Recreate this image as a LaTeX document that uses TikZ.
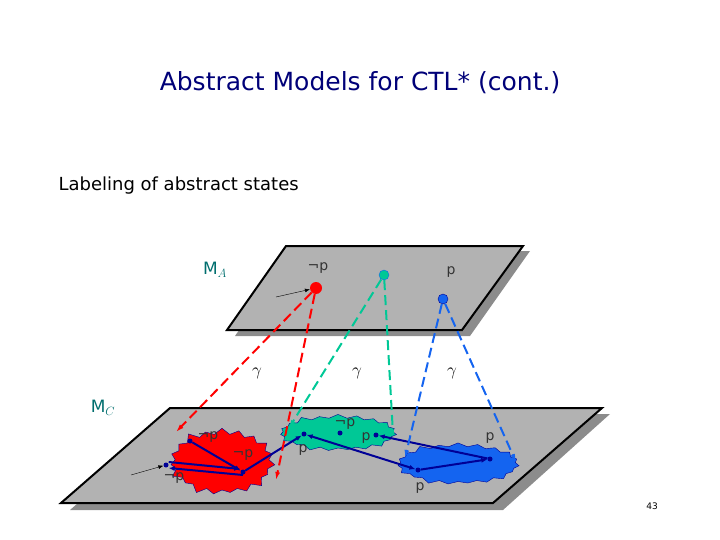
\documentclass[tikz,border=0pt]{standalone}
\usepackage{fontspec}
\setmainfont{DejaVu Sans}
\usetikzlibrary{arrows.meta,shapes.symbols}
\definecolor{plane}{RGB}{178,178,178}
\definecolor{shad}{RGB}{140,140,140}
\definecolor{tealc}{RGB}{0,200,150}
\definecolor{bluec}{RGB}{20,100,240}
\definecolor{navy}{RGB}{0,0,150}
\definecolor{labc}{RGB}{0,110,110}
\begin{document}
\begin{tikzpicture}[x=1pt,y=-1pt,
  dot/.style={circle,fill=navy,inner sep=0pt,minimum size=5pt},
  lab/.style={font=\fontsize{14}{14}\selectfont,text=black!80},
  tr/.style={-{Latex[length=6pt,width=5pt]},navy,line width=2pt},
  gam/.style={dashed,line width=2pt,dash pattern=on 10pt off 5pt,-{Latex[length=8pt,width=5pt]}},
  blob/.style={starburst,starburst points=19,starburst point height=8pt,draw=navy,thin},
  ini/.style={-{Latex[length=5pt]},black,thin}]
\useasboundingbox (0,0) rectangle (720,540);
\node[font=\fontsize{25}{25}\selectfont,text=navy!80!black] (title) at (360,83) {Abstract Models for CTL* (cont.)};
\node[font=\fontsize{18}{18}\selectfont,anchor=west] (sub) at (55,186) {Labeling of abstract states};
% top plane
\fill[shad] (294,251) -- (530,251) -- (470,336) -- (235,336) -- cycle;
\filldraw[fill=plane,draw=black,line width=2pt] (286,246) -- (523,246) -- (462,330) -- (227,330) -- cycle;
% bottom plane
\fill[shad] (180,414) -- (610,414) -- (503,510) -- (70,510) -- cycle;
\filldraw[fill=plane,draw=black,line width=2pt] (170,408) -- (602,408) -- (493,503) -- (61,503) -- cycle;
\node[font=\fontsize{17}{17}\selectfont,text=labc] (ma) at (215,270) {M$_A$};
\node[font=\fontsize{17}{17}\selectfont,text=labc] (mc) at (103,408) {M$_C$};
% blobs
\node[blob,fill=red,minimum width=110pt,minimum height=72pt] (rb) at (222,462) {};
\node[blob,fill=tealc,minimum width=120pt,minimum height=40pt,starburst point height=5pt] (tb) at (338,433) {};
\node[blob,fill=bluec,minimum width=125pt,minimum height=45pt,starburst point height=5pt] (bb) at (458,464) {};
% abstract states
\node[circle,fill=red,inner sep=0pt,minimum size=12pt] (ra) at (316,288) {};
\node[circle,fill=tealc,draw=bluec,inner sep=0pt,minimum size=10pt] (ta) at (384,275) {};
\node[circle,fill=bluec,draw=navy,inner sep=0pt,minimum size=10pt] (ba) at (443,299) {};
\node[lab] at (318,268) {¬p};
\node[lab] at (451,272) {p};
\coordinate (ri) at (276,297);
\draw[ini] (ri) -- (ra);
% concrete states
\node[dot] (a) at (190,441) {}; \node[lab,anchor=west] at (194,437) {¬p};
\node[dot] (b) at (243,472) {}; \node[lab] at (243,455) {¬p};
\node[dot] (c) at (166,465) {}; \node[lab] at (174,478) {¬p};
\node[dot] (d) at (304,434) {}; \node[lab] at (303,450) {p};
\node[dot] (e) at (340,433) {}; \node[lab] at (345,424) {¬p};
\node[dot] (f) at (376,435) {}; \node[lab] at (366,438) {p};
\node[dot] (g) at (418,470) {}; \node[lab] at (420,488) {p};
\node[dot] (h) at (490,459) {}; \node[lab] at (490,438) {p};
\coordinate (ci) at (131,475);
\draw[ini] (ci) -- (c);
\draw[tr] (a) -- (b);
\draw[tr] ([yshift=-3pt]b.center) -- ([yshift=-3pt]c.east);
\draw[tr] ([yshift=3pt]c.east) -- ([yshift=3pt]b.west);
\draw[tr] (b) -- (d);
\draw[tr,{Latex[length=6pt,width=5pt]}-{Latex[length=6pt,width=5pt]}] (d) -- (g);
\draw[tr,{Latex[length=6pt,width=5pt]}-] (f) -- (h);
\draw[tr] (g) -- (h);
% gamma maps
\coordinate (r1) at (176,432); \coordinate (r2) at (276,480);
\coordinate (t1) at (289,428); \coordinate (t2) at (393,434);
\coordinate (b1) at (405,458); \coordinate (b2) at (516,462);
\draw[gam,red] (ra) -- (r1);
\draw[gam,red] (ra) -- (r2);
\draw[gam,tealc] (ta) -- (t1);
\draw[gam,tealc,-] (ta) -- (t2);
\draw[gam,bluec] (ba) -- (b1);
\draw[gam,bluec] (ba) -- (b2);
\node[font=\fontsize{17}{17}\selectfont] at (257,373) {$\gamma$};
\node[font=\fontsize{17}{17}\selectfont] at (357,373) {$\gamma$};
\node[font=\fontsize{17}{17}\selectfont] at (452,373) {$\gamma$};
\node[font=\fontsize{9}{9}\selectfont] (pg) at (652,506) {43};
\end{tikzpicture}
\end{document}
